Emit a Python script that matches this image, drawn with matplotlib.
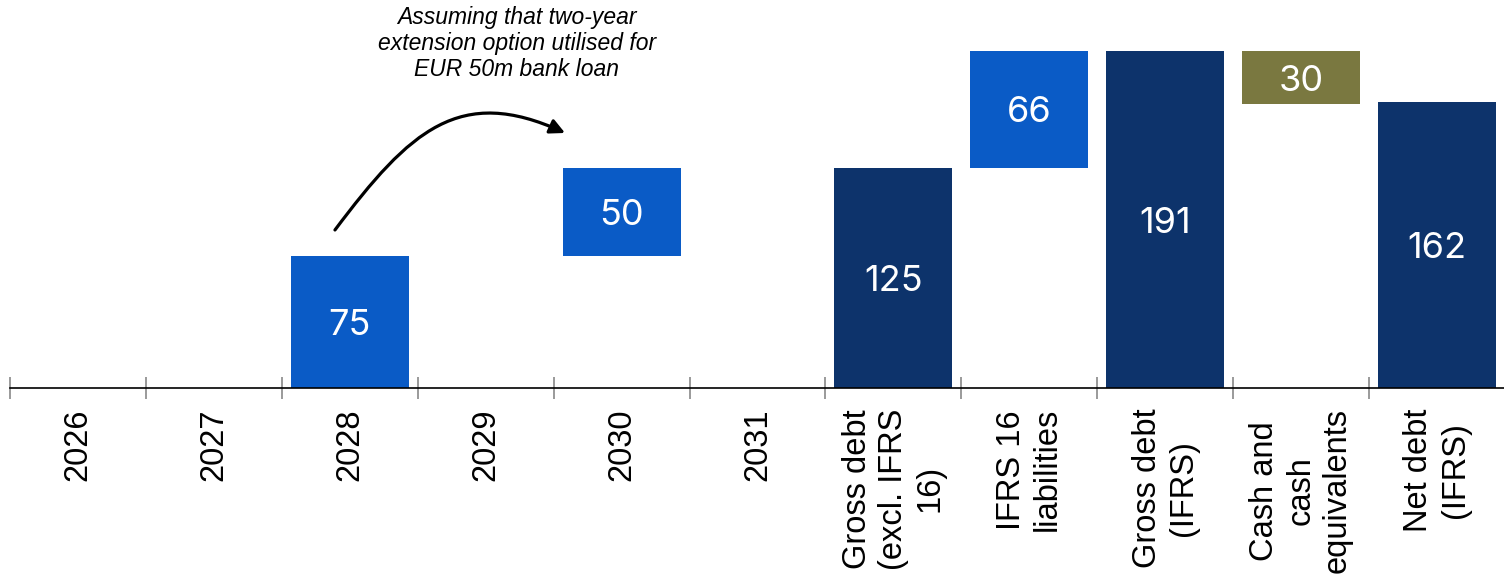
import matplotlib
matplotlib.use("Agg")
import matplotlib.pyplot as plt
from matplotlib.path import Path
from matplotlib.patches import FancyArrowPatch
import numpy as np

# Debt maturity profile and bridge to net debt (EUR m)
categories = ["2026", "2027", "2028", "2029", "2030", "2031",
              "Gross debt\n(excl. IFRS\n16)", "IFRS 16\nliabilities",
              "Gross debt\n(IFRS)", "Cash and\ncash\nequivalents",
              "Net debt\n(IFRS)"]
maturities = [0, 0, 75, 0, 50, 0]          # per year, stacked cumulatively
gross_debt_excl_ifrs16 = 125
ifrs16_liabilities = 66
gross_debt_ifrs = 191
cash = 30
net_debt_ifrs = 162

LIGHT_BLUE = "#0A5BC6"
NAVY = "#0D336B"
OLIVE = "#7A7840"

# Assemble bar heights, bottoms and colours
heights, bottoms, colors = [], [], []
running = 0
for m in maturities:
    heights.append(m)
    bottoms.append(running)
    colors.append(LIGHT_BLUE)
    running += m
heights += [gross_debt_excl_ifrs16, ifrs16_liabilities, gross_debt_ifrs,
            cash, net_debt_ifrs]
bottoms += [0, gross_debt_excl_ifrs16, 0, gross_debt_ifrs - cash, 0]
colors += [NAVY, LIGHT_BLUE, NAVY, OLIVE, NAVY]

W, H = 1504, 577
fig = plt.figure(figsize=(W / 100, H / 100), dpi=100)
ax = fig.add_axes([10 / W, 1 - 388 / H, 1495 / W, 388 / H])

x = np.arange(len(categories))
ax.bar(x, heights, bottom=bottoms, width=0.868, color=colors,
       edgecolor="none", zorder=2)

for xi, h, b in zip(x, heights, bottoms):
    if h > 0:
        ax.annotate(f"{h}", (xi, b + h / 2), xytext=(0, -2.5),
                    textcoords="offset points", ha="center", va="center",
                    color="white", fontsize=26, family="Inter", zorder=3)

ax.set_xlim(-0.5, len(categories) - 0.5)
ax.set_ylim(0, 220)

for s in ["left", "right", "top"]:
    ax.spines[s].set_visible(False)
ax.spines["bottom"].set_color("black")
ax.spines["bottom"].set_linewidth(1.2)
ax.set_yticks([])

# Category labels at bar centres, separators at category boundaries
ax.set_xticks(x)
ax.set_xticklabels(categories, rotation=90, fontsize=23.5,
                   family="Liberation Sans", ha="center", va="top",
                   multialignment="center", linespacing=1.22)
ax.tick_params(axis="x", which="major", length=0, pad=14.5)
ax.set_xticks(np.arange(len(categories) + 1) - 0.5, minor=True)
ax.tick_params(axis="x", which="minor", direction="inout", length=16,
               width=1.1, color="#7f7f7f")

# Curved arrow illustrating the extension of the bank loan
verts = [(1.891, 89.6), (2.443, 146.3), (2.811, 171.9), (3.584, 144.6)]
curve = Path(verts, [Path.MOVETO, Path.CURVE4, Path.CURVE4, Path.CURVE4])
arrow = FancyArrowPatch(path=curve, arrowstyle="-|>", mutation_scale=22,
                        color="black", linewidth=2.3, zorder=4)
ax.add_patch(arrow)

ax.text(3.23, 216.5, "Assuming that two-year\nextension option utilised for\nEUR 50m bank loan",
        ha="center", va="top", fontsize=16.5, style="italic",
        family="Liberation Sans", linespacing=1.15, zorder=4)

fig.savefig("out.png", dpi=100)
